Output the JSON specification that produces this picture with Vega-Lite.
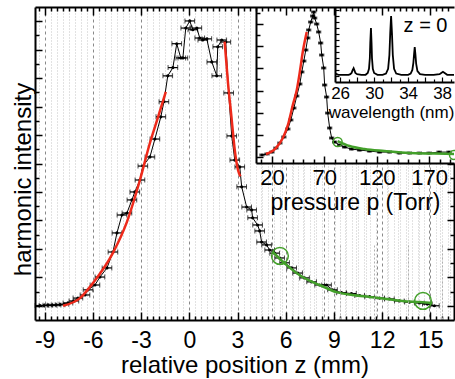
{
  "$schema": "https://vega.github.io/schema/vega-lite/v6.json",
  "width": 419,
  "height": 313,
  "autosize": {"type": "none"},
  "padding": {"left": 35, "top": 7, "right": 1, "bottom": 59},
  "background": "white",
  "config": {
    "view": {"stroke": null},
    "font": "Liberation Sans",
    "axis": {"labelColor": "black", "titleColor": "black", "titleFontWeight": "normal", "domainColor": "black", "tickColor": "black", "labelFont": "Liberation Sans", "titleFont": "Liberation Sans"}
  },
  "datasets": {
    "main": [
      {"z": -9.29, "v": 0.01, "e": 0.3}, {"z": -9.04, "v": 0.01, "e": 0.3}, {"z": -8.8, "v": 0.02, "e": 0.3},
      {"z": -8.54, "v": 0.02, "e": 0.3}, {"z": -8.29, "v": 0.03, "e": 0.3}, {"z": -8.04, "v": 0.04, "e": 0.3},
      {"z": -7.8, "v": 0.05, "e": 0.3}, {"z": -7.55, "v": 0.1, "e": 0.3}, {"z": -7.18, "v": 0.17, "e": 0.3},
      {"z": -6.93, "v": 0.27, "e": 0.3}, {"z": -6.49, "v": 0.38, "e": 0.3}, {"z": -6.3, "v": 0.56, "e": 0.3},
      {"z": -5.87, "v": 0.73, "e": 0.3}, {"z": -5.56, "v": 1.01, "e": 0.3}, {"z": -5.12, "v": 1.33, "e": 0.3},
      {"z": -4.75, "v": 1.89, "e": 0.3}, {"z": -4.5, "v": 2.56, "e": 0.3}, {"z": -4.19, "v": 3.19, "e": 0.3},
      {"z": -3.88, "v": 3.26, "e": 0.3}, {"z": -3.57, "v": 3.72, "e": 0.3}, {"z": -3.39, "v": 4.0, "e": 0.3},
      {"z": -3.07, "v": 4.42, "e": 0.3}, {"z": -2.89, "v": 4.91, "e": 0.3}, {"z": -2.45, "v": 5.23, "e": 0.3},
      {"z": -2.14, "v": 5.86, "e": 0.3}, {"z": -1.77, "v": 6.64, "e": 0.3}, {"z": -1.58, "v": 7.17, "e": 0.3},
      {"z": -1.34, "v": 8.08, "e": 0.3}, {"z": -1.02, "v": 8.37, "e": 0.3}, {"z": -0.78, "v": 9.21, "e": 0.3},
      {"z": -0.53, "v": 8.71, "e": 0.3}, {"z": -0.4, "v": 8.71, "e": 0.3}, {"z": -0.22, "v": 9.76, "e": 0.3},
      {"z": 0.03, "v": 10.01, "e": 0.3}, {"z": 0.22, "v": 9.7, "e": 0.3}, {"z": 0.47, "v": 9.76, "e": 0.3},
      {"z": 0.65, "v": 9.41, "e": 0.3}, {"z": 0.84, "v": 9.34, "e": 0.3}, {"z": 1.09, "v": 9.38, "e": 0.3},
      {"z": 1.4, "v": 8.57, "e": 0.3}, {"z": 1.71, "v": 8.08, "e": 0.3}, {"z": 1.77, "v": 9.1, "e": 0.3},
      {"z": 2.02, "v": 9.34, "e": 0.3}, {"z": 2.27, "v": 9.27, "e": 0.3}, {"z": 2.45, "v": 7.48, "e": 0.3},
      {"z": 2.64, "v": 5.97, "e": 0.3}, {"z": 2.83, "v": 5.12, "e": 0.3}, {"z": 3.14, "v": 4.88, "e": 0.3},
      {"z": 3.26, "v": 4.18, "e": 0.3}, {"z": 3.57, "v": 3.47, "e": 0.3}, {"z": 3.88, "v": 3.37, "e": 0.3},
      {"z": 3.94, "v": 3.09, "e": 0.3}, {"z": 4.25, "v": 2.84, "e": 0.3}, {"z": 4.38, "v": 2.63, "e": 0.3},
      {"z": 4.5, "v": 2.24, "e": 0.3}, {"z": 4.81, "v": 2.14, "e": 0.3}, {"z": 5.0, "v": 1.96, "e": 0.3},
      {"z": 5.31, "v": 1.85, "e": 0.3}, {"z": 5.62, "v": 1.68, "e": 0.3}, {"z": 5.93, "v": 1.51, "e": 0.3},
      {"z": 6.37, "v": 1.33, "e": 0.3}, {"z": 6.74, "v": 1.15, "e": 0.3}, {"z": 7.17, "v": 0.98, "e": 0.3},
      {"z": 7.61, "v": 0.84, "e": 0.3}, {"z": 8.11, "v": 0.73, "e": 0.3}, {"z": 8.54, "v": 0.73, "e": 0.3},
      {"z": 8.91, "v": 0.56, "e": 0.3}, {"z": 9.47, "v": 0.46, "e": 0.3}, {"z": 10.09, "v": 0.43, "e": 0.3},
      {"z": 10.6, "v": 0.36, "e": 0.3}, {"z": 11.22, "v": 0.32, "e": 0.3}, {"z": 11.84, "v": 0.27, "e": 0.3},
      {"z": 12.45, "v": 0.24, "e": 0.3}, {"z": 13.07, "v": 0.17, "e": 0.3}, {"z": 13.7, "v": 0.13, "e": 0.3},
      {"z": 14.32, "v": 0.1, "e": 0.3}, {"z": 14.81, "v": 0.06, "e": 0.3}, {"z": 15.25, "v": 0.0, "e": 0.3}
    ],
    "mainRedL": [
      {"z": -7.86, "v": 0.0}, {"z": -6.8, "v": 0.27}, {"z": -5.99, "v": 0.8}, {"z": -4.75, "v": 1.86},
      {"z": -3.88, "v": 2.95}, {"z": -3.07, "v": 4.42}, {"z": -2.45, "v": 5.72}, {"z": -1.96, "v": 6.6}, {"z": -1.46, "v": 7.52}
    ],
    "mainRedR": [
      {"z": 2.2, "v": 9.28}, {"z": 2.41, "v": 7.82}, {"z": 2.62, "v": 6.65}, {"z": 2.83, "v": 5.47},
      {"z": 3.03, "v": 4.77}, {"z": 3.18, "v": 4.55}
    ],
    "mainGreen": [
      {"z": 5.19, "v": 1.89}, {"z": 6.06, "v": 1.43}, {"z": 7.05, "v": 1.01}, {"z": 8.11, "v": 0.73},
      {"z": 9.16, "v": 0.48}, {"z": 10.16, "v": 0.38}, {"z": 11.21, "v": 0.31}, {"z": 12.27, "v": 0.24},
      {"z": 13.26, "v": 0.17}, {"z": 14.32, "v": 0.13}, {"z": 15.12, "v": 0.1}
    ],
    "mainCircles": [{"z": 5.64, "v": 1.75}, {"z": 14.54, "v": 0.17}],
    "inset": [
      {"p": 10.5, "iv": 0.22, "e": 2}, {"p": 15.3, "iv": 0.31, "e": 2}, {"p": 20, "iv": 0.48, "e": 2},
      {"p": 23.8, "iv": 0.84, "e": 2}, {"p": 27.6, "iv": 1.29, "e": 2}, {"p": 31.4, "iv": 1.83, "e": 2},
      {"p": 35.2, "iv": 2.55, "e": 2}, {"p": 38.0, "iv": 3.36, "e": 2}, {"p": 40.9, "iv": 4.43, "e": 2},
      {"p": 43.7, "iv": 5.51, "e": 2}, {"p": 46.6, "iv": 6.59, "e": 2}, {"p": 48.5, "iv": 7.67, "e": 2},
      {"p": 50.4, "iv": 8.65, "e": 2}, {"p": 52.3, "iv": 9.64, "e": 2}, {"p": 54.2, "iv": 10.72, "e": 2},
      {"p": 55.1, "iv": 11.44, "e": 2}, {"p": 57.0, "iv": 12.15, "e": 2}, {"p": 58.9, "iv": 12.69, "e": 2},
      {"p": 59.9, "iv": 13.05, "e": 2}, {"p": 60.8, "iv": 12.51, "e": 2}, {"p": 62.7, "iv": 11.97, "e": 2},
      {"p": 64.6, "iv": 11.26, "e": 2}, {"p": 66.5, "iv": 10.27, "e": 2}, {"p": 67.5, "iv": 9.19, "e": 2},
      {"p": 69.4, "iv": 8.03, "e": 2}, {"p": 70.3, "iv": 6.5, "e": 2}, {"p": 72.2, "iv": 5.42, "e": 2},
      {"p": 73.2, "iv": 3.98, "e": 2}, {"p": 75.1, "iv": 2.64, "e": 2}, {"p": 77.0, "iv": 1.74, "e": 2},
      {"p": 79.8, "iv": 1.38, "e": 2}, {"p": 84.6, "iv": 1.11, "e": 2}, {"p": 89.3, "iv": 0.93, "e": 2},
      {"p": 96.0, "iv": 0.75, "e": 2}, {"p": 103.6, "iv": 0.66, "e": 2}, {"p": 113.1, "iv": 0.57, "e": 2},
      {"p": 122.6, "iv": 0.48, "e": 2}, {"p": 132.1, "iv": 0.48, "e": 2}, {"p": 141.6, "iv": 0.39, "e": 2},
      {"p": 151.1, "iv": 0.39, "e": 2}, {"p": 160.6, "iv": 0.39, "e": 2}, {"p": 170.0, "iv": 0.39, "e": 2},
      {"p": 179.5, "iv": 0.48, "e": 2}, {"p": 189.0, "iv": 0.48, "e": 2}
    ],
    "insetRed": [
      {"p": 14.3, "iv": 0.31}, {"p": 23.8, "iv": 0.84}, {"p": 30.4, "iv": 1.74}, {"p": 35.2, "iv": 2.9},
      {"p": 39.9, "iv": 4.7}, {"p": 43.7, "iv": 6.05}, {"p": 46.6, "iv": 7.67}, {"p": 49.4, "iv": 9.46}, {"p": 53.2, "iv": 11.26}
    ],
    "insetGreen": [
      {"p": 82.7, "iv": 1.47}, {"p": 94.1, "iv": 1.02}, {"p": 108.3, "iv": 0.75}, {"p": 127.3, "iv": 0.57},
      {"p": 151.1, "iv": 0.39}, {"p": 174.8, "iv": 0.35}, {"p": 193.7, "iv": 0.31}
    ],
    "insetCircles": [{"p": 82.7, "iv": 1.38}, {"p": 193.7, "iv": 0.22}],
    "spectrum": [
      {"w": 25.45, "s": 0.04}, {"w": 25.8, "s": 0.02}, {"w": 26.5, "s": 0.02}, {"w": 27.0, "s": 0.02},
      {"w": 27.2, "s": 0.03}, {"w": 27.35, "s": 0.05}, {"w": 27.45, "s": 0.09}, {"w": 27.59, "s": 0.13},
      {"w": 27.7, "s": 0.09}, {"w": 27.8, "s": 0.05}, {"w": 28.0, "s": 0.03}, {"w": 28.5, "s": 0.02},
      {"w": 29.0, "s": 0.02}, {"w": 29.25, "s": 0.05}, {"w": 29.4, "s": 0.12}, {"w": 29.5, "s": 0.3},
      {"w": 29.55, "s": 0.55}, {"w": 29.63, "s": 0.8}, {"w": 29.7, "s": 0.55}, {"w": 29.75, "s": 0.3},
      {"w": 29.85, "s": 0.12}, {"w": 30.0, "s": 0.05}, {"w": 30.4, "s": 0.02}, {"w": 31.0, "s": 0.02},
      {"w": 31.4, "s": 0.04}, {"w": 31.65, "s": 0.12}, {"w": 31.8, "s": 0.35}, {"w": 31.9, "s": 0.72},
      {"w": 32.0, "s": 1.0}, {"w": 32.1, "s": 0.72}, {"w": 32.2, "s": 0.35}, {"w": 32.35, "s": 0.12},
      {"w": 32.6, "s": 0.04}, {"w": 33.2, "s": 0.02}, {"w": 34.0, "s": 0.02}, {"w": 34.3, "s": 0.04},
      {"w": 34.5, "s": 0.1}, {"w": 34.62, "s": 0.22}, {"w": 34.7, "s": 0.36}, {"w": 34.78, "s": 0.48},
      {"w": 34.86, "s": 0.36}, {"w": 34.95, "s": 0.2}, {"w": 35.1, "s": 0.08}, {"w": 35.4, "s": 0.03},
      {"w": 36.0, "s": 0.02}, {"w": 37.0, "s": 0.02}, {"w": 37.7, "s": 0.03}, {"w": 37.9, "s": 0.05},
      {"w": 38.1, "s": 0.07}, {"w": 38.3, "s": 0.05}, {"w": 38.6, "s": 0.02}, {"w": 39.4, "s": 0.02}
    ]
  },
  "layer": [
    {
      "encoding": {
        "x": {
          "field": "z", "type": "quantitative",
          "scale": {"domain": [-9.6, 16.47], "nice": false, "zero": false},
          "axis": {
            "orient": "bottom",
            "values": [-9.375, -9, -8.625, -8.25, -7.875, -7.5, -7.125, -6.75, -6.375, -6, -5.625, -5.25, -4.875, -4.5, -4.125, -3.75, -3.375, -3, -2.625, -2.25, -1.875, -1.5, -1.125, -0.75, -0.375, 0, 0.375, 0.75, 1.125, 1.5, 1.875, 2.25, 2.625, 3, 3.375, 3.75, 4.125, 4.5, 4.875, 5.25, 5.625, 6, 6.375, 6.75, 7.125, 7.5, 7.875, 8.25, 8.625, 9, 9.375, 9.75, 10.125, 10.5, 10.875, 11.25, 11.625, 12, 12.375, 12.75, 13.125, 13.5, 13.875, 14.25, 14.625, 15, 15.375, 15.75, 16.125],
            "labelExpr": "datum.value % 3 === 0 ? '' + datum.value : ''",
            "labelOverlap": false, "labelFlush": false,
            "labelFontSize": 23, "labelBaseline": "alphabetic", "labelPadding": 35,
            "tickSize": {"condition": {"test": "datum.value % 3 === 0", "value": -8}, "value": -4},
            "tickWidth": 1.5, "domainWidth": 2,
            "grid": true,
            "gridColor": {"condition": {"test": "datum.value % 3 === 0", "value": "#8a8a8a"}, "value": "#c4c4c4"},
            "gridDash": {"condition": {"test": "datum.value % 3 === 0", "value": [3, 3]}, "value": [1, 2]},
            "gridWidth": 1,
            "gridOpacity": {"condition": {"test": "datum.value < 4.1", "value": 1}, "value": 0},
            "title": "relative position z (mm)", "titleFontSize": 24, "titleBaseline": "alphabetic", "titleY": 52, "titlePadding": 0
          }
        },
        "y": {
          "field": "v", "type": "quantitative",
          "scale": {"domain": [-0.5, 10.5], "nice": false, "zero": false},
          "axis": {
            "orient": "left",
            "values": [0, 0.5, 1, 1.5, 2, 2.5, 3, 3.5, 4, 4.5, 5, 5.5, 6, 6.5, 7, 7.5, 8, 8.5, 9, 9.5, 10],
            "labels": false,
            "tickSize": {"condition": {"test": "datum.value % 1 === 0", "value": -7}, "value": -4},
            "tickWidth": 1.5, "domainWidth": 2, "grid": false,
            "title": "harmonic intensity", "titleFontSize": 24, "titleX": -5, "titleY": 172, "titleAngle": 270,
            "titleAlign": "center", "titleBaseline": "alphabetic", "titlePadding": 0
          }
        }
      },
      "layer": [
        {"data": {"name": "main"}, "mark": {"type": "line", "color": "black", "strokeWidth": 1}},
        {"data": {"name": "main"}, "mark": {"type": "errorbar", "color": "black", "ticks": {"size": 5, "thickness": 1, "color": "black"}, "rule": {"strokeWidth": 1.2}}, "encoding": {"xError": {"field": "e"}}},
        {"data": {"name": "main"}, "mark": {"type": "point", "filled": true, "color": "black", "size": 10, "opacity": 1}},
        {"data": {"name": "mainRedL"}, "mark": {"type": "line", "color": "#ee2a1b", "strokeWidth": 2.5, "interpolate": "monotone"}},
        {"data": {"name": "mainRedR"}, "mark": {"type": "line", "color": "#ee2a1b", "strokeWidth": 2.5, "interpolate": "monotone"}},
        {"data": {"name": "mainGreen"}, "mark": {"type": "line", "color": "#43a02a", "strokeWidth": 2.5, "interpolate": "monotone"}},
        {"data": {"name": "mainCircles"}, "mark": {"type": "point", "shape": "circle", "filled": false, "stroke": "#43a02a", "strokeWidth": 1.5, "size": 280, "opacity": 1}}
      ]
    },
    {
      "data": {"name": "mainCircles"},
      "mark": {"type": "point", "opacity": 0},
      "encoding": {
        "x": {
          "field": "z", "type": "quantitative",
          "scale": {"domain": [-9.6, 16.47], "nice": false, "zero": false},
          "axis": {
            "orient": "top",
            "values": [-9.375, -9, -8.625, -8.25, -7.875, -7.5, -7.125, -6.75, -6.375, -6, -5.625, -5.25, -4.875, -4.5, -4.125, -3.75, -3.375, -3, -2.625, -2.25, -1.875, -1.5, -1.125, -0.75, -0.375, 0, 0.375, 0.75, 1.125, 1.5, 1.875, 2.25, 2.625, 3, 3.375, 3.75, 4.125, 4.5, 4.875, 5.25, 5.625, 6, 6.375, 6.75, 7.125, 7.5, 7.875, 8.25, 8.625, 9, 9.375, 9.75, 10.125, 10.5, 10.875, 11.25, 11.625, 12, 12.375, 12.75, 13.125, 13.5, 13.875, 14.25, 14.625, 15, 15.375, 15.75, 16.125],
            "labels": false,
            "tickSize": {"condition": {"test": "datum.value % 3 === 0", "value": -8}, "value": -4},
            "tickWidth": 1.5, "domainWidth": 2,
            "grid": true,
            "gridColor": {"condition": {"test": "datum.value % 3 === 0", "value": "#8a8a8a"}, "value": "#c4c4c4"},
            "gridDash": {"condition": {"test": "datum.value % 3 === 0", "value": [3, 3]}, "value": [1, 2]},
            "gridWidth": 1,
            "gridOpacity": {"condition": {"test": "datum.value > 4.1", "value": 1}, "value": 0},
            "title": null
          }
        },
        "y": {
          "field": "v", "type": "quantitative",
          "scale": {"domain": [-0.5, 5.018], "range": [313, 156], "nice": false, "zero": false},
          "axis": {
            "orient": "right",
            "values": [0, 0.5, 1, 1.5, 2, 2.5, 3, 3.5, 4, 4.5, 5],
            "labels": false,
            "tickSize": {"condition": {"test": "datum.value % 1 === 0", "value": -7}, "value": -4},
            "tickWidth": 1.5, "domainWidth": 2, "grid": false, "title": null
          }
        }
      }
    },
    {
      "encoding": {
        "x": {
          "field": "p", "type": "quantitative",
          "scale": {"domain": [4.8, 193.7], "range": [221, 419], "nice": false, "zero": false},
          "axis": {
            "orient": "bottom", "offset": -157,
            "values": [10, 20, 30, 40, 50, 60, 70, 80, 90, 100, 110, 120, 130, 140, 150, 160, 170, 180, 190],
            "labelExpr": "(datum.value - 20) % 50 === 0 ? datum.label : ''",
            "labelOverlap": false, "labelFlush": false,
            "labelFontSize": 22, "labelBaseline": "alphabetic", "labelPadding": 28,
            "tickSize": {"condition": {"test": "(datum.value - 20) % 50 === 0", "value": -7}, "value": -4},
            "tickWidth": 1.5, "domainWidth": 2,
            "grid": true,
            "gridColor": {"condition": {"test": "(datum.value - 20) % 50 === 0", "value": "#8a8a8a"}, "value": "#c4c4c4"},
            "gridDash": {"condition": {"test": "(datum.value - 20) % 50 === 0", "value": [3, 3]}, "value": [1, 2]},
            "gridWidth": 1,
            "title": "pressure p (Torr)", "titleFontSize": 23, "titleBaseline": "alphabetic", "titleY": 46, "titlePadding": 0
          }
        },
        "y": {
          "field": "iv", "type": "quantitative",
          "scale": {"domain": [-0.5, 13.5], "range": [156, 0], "nice": false, "zero": false},
          "axis": {
            "orient": "left", "offset": -221,
            "values": [0, 1, 2, 3, 4, 5, 6, 7, 8, 9, 10, 11, 12, 13],
            "labels": false,
            "tickSize": {"condition": {"test": "datum.value % 2 === 0", "value": -7}, "value": -4},
            "tickWidth": 1.5, "domainWidth": 2, "grid": false, "title": null
          }
        }
      },
      "layer": [
        {"data": {"name": "inset"}, "mark": {"type": "line", "color": "black", "strokeWidth": 1}},
        {"data": {"name": "inset"}, "mark": {"type": "errorbar", "color": "black", "ticks": {"size": 3, "thickness": 1, "color": "black"}, "rule": {"strokeWidth": 1}}, "encoding": {"xError": {"field": "e"}}},
        {"data": {"name": "inset"}, "mark": {"type": "point", "shape": "square", "filled": true, "color": "black", "size": 8, "opacity": 1}},
        {"data": {"name": "insetRed"}, "mark": {"type": "line", "color": "#ee2a1b", "strokeWidth": 2.5, "interpolate": "monotone"}},
        {"data": {"name": "insetGreen"}, "mark": {"type": "line", "color": "#43a02a", "strokeWidth": 2.5, "interpolate": "monotone"}},
        {"data": {"name": "insetCircles"}, "mark": {"type": "point", "shape": "circle", "filled": false, "stroke": "#43a02a", "strokeWidth": 1.5, "size": 80, "opacity": 1}}
      ]
    },
    {
      "encoding": {
        "x": {
          "field": "w", "type": "quantitative",
          "scale": {"domain": [25.4, 39.4], "range": [300, 419], "nice": false, "zero": false},
          "axis": {
            "orient": "bottom", "offset": -238, "zindex": 1,
            "values": [26, 27, 28, 29, 30, 31, 32, 33, 34, 35, 36, 37, 38, 39],
            "labelExpr": "(datum.value - 26) % 4 === 0 ? datum.label : ''",
            "labelOverlap": false, "labelFlush": false,
            "labelFontSize": 17, "labelBaseline": "alphabetic", "labelPadding": 21,
            "tickSize": {"condition": {"test": "(datum.value - 26) % 2 === 0", "value": -5}, "value": -3},
            "tickWidth": 1.2, "domainWidth": 2,
            "grid": true, "gridColor": "#b0b0b0", "gridDash": [2, 2], "gridWidth": 1,
            "gridOpacity": {"condition": {"test": "(datum.value - 26) % 4 === 0", "value": 1}, "value": 0},
            "title": "wavelength (nm)", "titleFontSize": 17, "titleBaseline": "alphabetic", "titleX": 356, "titleY": 35, "titlePadding": 0
          }
        },
        "y": {
          "field": "s", "type": "quantitative",
          "scale": {"domain": [-0.1, 1.15], "range": [75, 0], "nice": false, "zero": false},
          "axis": {
            "orient": "left", "offset": -300, "zindex": 1,
            "values": [0, 0.1, 0.2, 0.3, 0.4, 0.5, 0.6, 0.7, 0.8, 0.9, 1.0, 1.1],
            "labels": false, "tickSize": -4, "tickWidth": 1.2, "domainWidth": 2, "grid": false, "title": null
          }
        }
      },
      "layer": [
        {
          "data": {"values": [{}]},
          "mark": {"type": "rect", "fill": "white", "stroke": null},
          "encoding": {
            "x": {"datum": 25.4, "type": "quantitative"},
            "x2": {"datum": 39.4},
            "y": {"datum": -0.1, "type": "quantitative"},
            "y2": {"datum": 1.13}
          }
        },
        {"data": {"name": "spectrum"}, "mark": {"type": "line", "color": "black", "strokeWidth": 1.8}},
        {
          "data": {"values": [{"w": 36.05, "s": 0.83, "t": "z = 0"}]},
          "mark": {"type": "text", "fontSize": 20, "align": "center", "baseline": "middle", "color": "black", "font": "Liberation Sans"},
          "encoding": {"text": {"field": "t"}}
        }
      ]
    }
  ],
  "resolve": {"scale": {"x": "independent", "y": "independent"}, "axis": {"x": "independent", "y": "independent"}}
}
